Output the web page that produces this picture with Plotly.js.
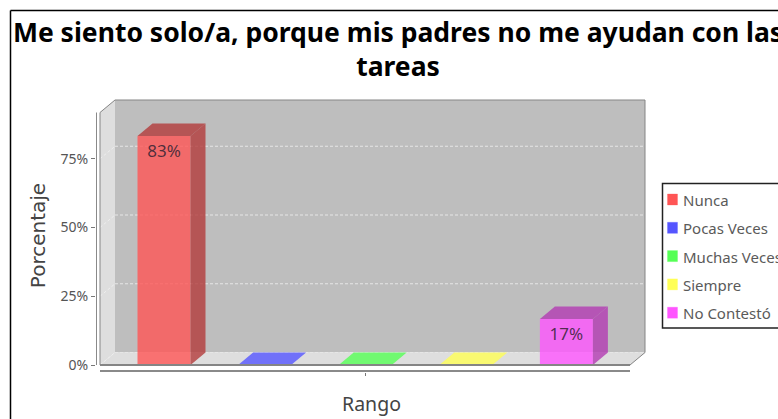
<!DOCTYPE html>
<html><head><meta charset="utf-8">
<script src="https://cdn.plot.ly/plotly-3.0.1.min.js"></script>
<style>html,body{margin:0;padding:0;background:#fff;overflow:hidden}</style>
</head><body><div id="chart" style="width:778px;height:419px"></div>
<script>
const categories = ['Nunca','Pocas Veces','Muchas Veces','Siempre','No Contestó'];
const values = [83.3,0,0,0,16.7];
const yTicks = [0,25,50,75];
const yTickLabels = ['0%','25%','50%','75%'];
const titleText = 'Me siento solo/a, porque mis padres no me ayudan con las<br>tareas';
const xTitle = 'Rango';
const yTitle = 'Porcentaje';
const baseColors = [[255,85,85],[85,85,255],[85,255,85],[255,255,85],[255,85,255]];

const W=778,H=419,PL=96,PR=647,PT=99,PB=372;
const pitch=100.6,x0px=164,ppu=2.75,y0px=365;
const X=p=>(p-x0px)/pitch, Y=p=>(y0px-p)/ppu;
const barW=53/pitch, dx=15/pitch, dy=12.5/ppu;
const xL=X(100), xR=X(630), yTop=Y(112.5);
const fonts='"Noto Sans","DejaVu Sans",sans-serif';
const rgba=(c,a,k=1)=>`rgba(${c.map(v=>Math.round(v*k)).join(',')},${a})`;
const path=pts=>'M'+pts.map(p=>p[0]+','+p[1]).join('L')+'Z';

const traces=categories.map((name,i)=>({
  type:'bar',name,x:[i],y:[values[i]],width:barW,showlegend:false,
  marker:{color:rgba(baseColors[i],0.8),line:{width:0}},
  text:[values[i]>0?Math.round(values[i])+'%':''],
  textposition:'inside',insidetextanchor:'end',constraintext:'none',
  textangle:0,
  textfont:{family:fonts,size:17,color:'rgba(50,35,50,0.85)'},
  hoverinfo:'skip'
}));
categories.forEach((name,i)=>{
  const a=i-barW/2,b=i+barW/2,v=values[i];
  const face=(xs,ys,color)=>traces.push({type:'scatter',mode:'none',x:xs,y:ys,fill:'toself',fillcolor:color,showlegend:false,hoverinfo:'skip'});
  if(v>0){
    face([b,b+dx,b+dx,b,b],[0,dy,v+dy,v,0],rgba(baseColors[i],0.8,0.7));
    face([a,b,b+dx,a+dx,a],[v,v,v+dy,v+dy,v],rgba(baseColors[i],0.8,0.7));
  } else {
    face([a,b,b+dx,a+dx,a],[v,v,v+dy,v+dy,v],rgba(baseColors[i],0.8));
  }
});

const edge={color:'#858585',width:1};
const shapes=[
  {type:'path',path:path([[xL+dx,dy],[xR+dx,dy],[xR+dx,yTop+dy],[xL+dx,yTop+dy]]),fillcolor:'#bebebe',line:{width:0},layer:'below'},
  {type:'path',path:path([[xL,0],[xL+dx,dy],[xL+dx,yTop+dy],[xL,yTop]]),fillcolor:'#dedede',line:{width:0},layer:'below'},
  {type:'path',path:path([[xL,0],[xR,0],[xR+dx,dy],[xL+dx,dy]]),fillcolor:'#dedede',line:{width:0},layer:'below'}
];
yTicks.forEach(t=>{
  shapes.push({type:'line',x0:xL+dx,x1:xR+dx,y0:t+dy,y1:t+dy,line:{color:'#e6e6e6',width:1,dash:'3px,2px'},layer:'below'});
  shapes.push({type:'line',x0:xL,x1:xL+dx,y0:t,y1:t+dy,line:{color:'#eeeeee',width:1,dash:'3px,2px'},layer:'below'});
});
[[xL,yTop,xL+dx,yTop+dy],[xL+dx,yTop+dy,xR+dx,yTop+dy],[xR+dx,yTop+dy,xR+dx,dy],[xR+dx,dy,xR,0],[xL,0,xL,yTop]].forEach(s=>
  shapes.push({type:'line',x0:s[0],y0:s[1],x1:s[2],y1:s[3],line:edge,layer:'below'}));
shapes.push({type:'line',x0:xL,x1:xR,y0:0,y1:0,line:{color:'#858585',width:2},layer:'above'});
shapes.push({type:'line',x0:X(100),x1:X(630),y0:Y(371),y1:Y(371),line:{color:'#8a8a8a',width:2}});
shapes.push({type:'line',x0:X(96),x1:X(96),y0:0,y1:yTop,line:{color:'#8a8a8a',width:2}});

const pw=PR-PL,ph=PB-PT;
const paperX=p=>(p-PL)/pw, paperY=p=>(PB-p)/ph;
const paperLine=(a,b,c,d,col,w)=>({type:'line',xref:'paper',yref:'paper',x0:paperX(a),y0:paperY(b),x1:paperX(c),y1:paperY(d),line:{color:col,width:w}});
shapes.push(paperLine(10.5,10.5,790,10.5,'#000',1.5));
shapes.push(paperLine(10.5,10.5,10.5,430,'#000',1.5));
shapes.push({type:'rect',xref:'paper',yref:'paper',x0:paperX(662.5),x1:paperX(800),y0:paperY(183.5),y1:paperY(328),line:{color:'#222',width:1.5},fillcolor:'#fff'});
const annotations=[];
categories.forEach((name,i)=>{
  const cy=199.5+i*28.3;
  const c=baseColors[i];
  shapes.push({type:'rect',xref:'paper',yref:'paper',x0:paperX(667.5),x1:paperX(677.5),y0:paperY(cy-5.5),y1:paperY(cy+5.5),fillcolor:rgba(c,1),line:{color:rgba(c,0.3),width:1}});
  annotations.push({xref:'paper',yref:'paper',x:paperX(680.5),y:paperY(cy+0.5),xanchor:'left',yanchor:'middle',showarrow:false,text:name,font:{family:fonts,size:15,color:'#5a5a5a'}});
});

Plotly.newPlot('chart',traces,{
  width:W,height:H,autosize:false,
  paper_bgcolor:'#fff',plot_bgcolor:'rgba(0,0,0,0)',
  margin:{l:PL,r:W-PR,t:PT,b:H-PB,pad:0},
  hovermode:false,barmode:'overlay',showlegend:false,
  title:{text:titleText,x:398/W,xanchor:'center',y:1-42/H,yanchor:'top',font:{family:fonts,size:26.5,color:'#000',weight:700}},
  xaxis:{range:[X(PL),X(PR)],tickmode:'array',tickvals:[2],ticktext:[''],ticks:'outside',ticklen:3,tickcolor:'#777',showgrid:false,zeroline:false,showline:false,fixedrange:true,
    title:{text:xTitle,standoff:19,font:{family:fonts,size:19.5,color:'#444'}}},
  yaxis:{range:[Y(PB),Y(PT)],tickmode:'array',tickvals:yTicks,ticktext:yTickLabels,ticks:'outside',ticklen:4,tickcolor:'#777',showgrid:false,zeroline:false,showline:false,fixedrange:true,
    tickfont:{family:fonts,size:14,color:'#555'},
    title:{text:yTitle,standoff:9,font:{family:'"DejaVu Sans",sans-serif',size:20,color:'#444'}}},
  shapes,annotations
},{displayModeBar:false,staticPlot:true});
</script></body></html>
